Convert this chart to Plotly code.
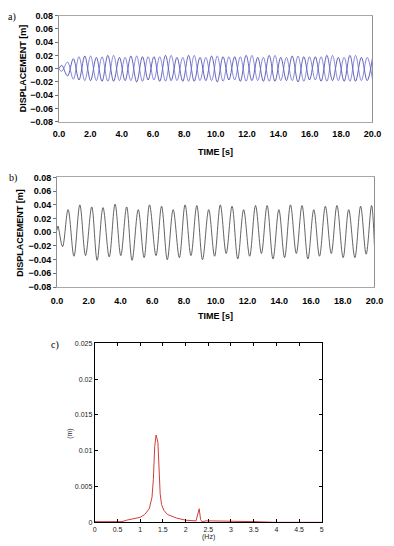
import plotly.graph_objects as go

W, H = 394, 546

# ---- panel a: two displacement records (extrema) ----
ta = [0.00, 0.18, 0.55, 0.92, 1.28, 1.65, 2.02, 2.39, 2.75, 3.12, 3.49, 3.86, 4.22, 4.59,
      4.96, 5.33, 5.69, 6.06, 6.43, 6.80, 7.16, 7.53, 7.90, 8.27, 8.63, 9.00, 9.37, 9.74,
      10.10, 10.47, 10.84, 11.21, 11.57, 11.94, 12.31, 12.68, 13.04, 13.41, 13.78, 14.15,
      14.51, 14.88, 15.25, 15.62, 15.98, 16.35, 16.72, 17.09, 17.45, 17.82, 18.19, 18.56,
      18.92, 19.29, 19.66, 20.00]
a1 = [0.000, 0.005, -0.011, 0.015, -0.017, 0.019, -0.018, 0.017, -0.019, 0.020, -0.019,
      0.017, -0.018, 0.019, -0.020, 0.018, -0.017, 0.018, -0.019, 0.020, -0.018, 0.017,
      -0.019, 0.020, -0.019, 0.017, -0.018, 0.019, -0.020, 0.018, -0.017, 0.018, -0.019,
      0.020, -0.018, 0.017, -0.019, 0.020, -0.019, 0.017, -0.018, 0.019, -0.020, 0.018,
      -0.017, 0.018, -0.019, 0.020, -0.018, 0.017, -0.019, 0.020, -0.019, 0.017, -0.018,
      0.016]
a2 = [0.000, -0.004, 0.010, -0.016, 0.018, -0.018, 0.019, -0.018, 0.018, -0.019, 0.020,
      -0.018, 0.017, -0.018, 0.019, -0.019, 0.018, -0.017, 0.018, -0.019, 0.020, -0.018,
      0.017, -0.019, 0.020, -0.018, 0.017, -0.018, 0.019, -0.019, 0.018, -0.017, 0.018,
      -0.019, 0.020, -0.018, 0.017, -0.019, 0.020, -0.018, 0.017, -0.018, 0.019, -0.019,
      0.018, -0.017, 0.018, -0.019, 0.020, -0.018, 0.017, -0.019, 0.020, -0.018, 0.017,
      -0.016]

# ---- panel b: displacement record (extrema) ----
tb = [0.00, 0.06, 0.35, 0.70, 1.07, 1.44, 1.80, 2.19, 2.53, 2.90, 3.29, 3.66, 4.02, 4.39,
      4.73, 5.12, 5.49, 5.83, 6.24, 6.59, 6.95, 7.32, 7.71, 8.07, 8.44, 8.81, 9.17, 9.56,
      9.93, 10.29, 10.66, 11.03, 11.39, 11.76, 12.14, 12.51, 12.88, 13.24, 13.61, 13.98,
      14.34, 14.71, 15.08, 15.44, 15.81, 16.18, 16.54, 16.91, 17.28, 17.64, 18.03, 18.38,
      18.77, 19.13, 19.48, 19.82, 20.00]
vb = [0.003, 0.009, -0.021, 0.033, -0.035, 0.040, -0.034, 0.037, -0.041, 0.036, -0.036,
      0.041, -0.034, 0.037, -0.041, 0.033, -0.037, 0.040, -0.034, 0.038, -0.040, 0.033,
      -0.037, 0.040, -0.034, 0.039, -0.040, 0.033, -0.035, 0.040, -0.031, 0.038, -0.039,
      0.033, -0.035, 0.039, -0.031, 0.039, -0.039, 0.033, -0.037, 0.040, -0.031, 0.039,
      -0.039, 0.033, -0.035, 0.038, -0.031, 0.039, -0.037, 0.033, -0.037, 0.038, -0.032,
      0.039, -0.020]

# ---- panel c: amplitude spectrum ----
fc = [0.0, 0.3, 0.6, 0.7, 0.87, 1.0, 1.1, 1.2, 1.26, 1.29, 1.32, 1.35, 1.39, 1.41, 1.44,
      1.47, 1.52, 1.6, 1.7, 1.8, 2.0, 2.15, 2.23, 2.30, 2.33, 2.36, 2.45, 2.6, 2.8, 2.9,
      3.2, 3.5, 4.0, 4.5, 5.0]
vc = [0.0001, 0.0001, 0.0001, 0.0003, 0.0005, 0.0007, 0.0011, 0.0019, 0.0035, 0.0060,
      0.0106, 0.0122, 0.0112, 0.0080, 0.0040, 0.0025, 0.0017, 0.0011, 0.0008, 0.0006,
      0.0003, 0.0002, 0.0002, 0.0019, 0.0004, 0.0001, 0.0002, 0.0002, 0.0002, 0.0001,
      0.0001, 0.0001, 0.0, 0.0, 0.0]

disp_ticks = [-0.08, -0.06, -0.04, -0.02, 0.0, 0.02, 0.04, 0.06, 0.08]
time_ticks = [0, 2, 4, 6, 8, 10, 12, 14, 16, 18, 20]
hz_ticks = [0, 0.5, 1, 1.5, 2, 2.5, 3, 3.5, 4, 4.5, 5]
m_ticks = [0, 0.005, 0.01, 0.015, 0.02, 0.025]


def px(x):
    return x / W


def py(y):
    return 1 - y / H


fig = go.Figure()
fig.add_trace(go.Scatter(x=ta, y=a1, mode="lines", line=dict(color="#3a3aa6", width=0.8, shape="spline"),
                         xaxis="x", yaxis="y"))
fig.add_trace(go.Scatter(x=ta, y=a2, mode="lines", line=dict(color="#6a6ad2", width=0.8, shape="spline"),
                         xaxis="x", yaxis="y"))
fig.add_trace(go.Scatter(x=tb, y=vb, mode="lines", line=dict(color="#3c3c3c", width=0.8, shape="spline"),
                         xaxis="x2", yaxis="y2"))
fig.add_trace(go.Scatter(x=fc, y=vc, mode="lines", line=dict(color="#d43c3c", width=1),
                         xaxis="x3", yaxis="y3"))

bold = dict(family="Liberation Sans", size=9, color="#000000", weight="bold")
small = dict(family="Liberation Sans", size=7, color="#222222")

def time_axis(domain, anchor, standoff):
    return dict(domain=domain, anchor=anchor, range=[0, 20], tickvals=time_ticks,
                tickformat=".1f", tickfont=bold, showgrid=False, zeroline=False,
                showline=True, mirror=True, linecolor="#a8a8a8", linewidth=1,
                ticks="", ticklabelstandoff=standoff)

def disp_axis(domain, anchor):
    return dict(domain=domain, anchor=anchor, range=[-0.08, 0.08], tickvals=disp_ticks,
                tickformat=".2f", tickfont=bold, showgrid=False, zeroline=False,
                showline=True, mirror=True, linecolor="#909090", linewidth=1,
                ticks="outside", ticklen=3, tickcolor="#707070")

fig.update_layout(
    width=W, height=H, margin=dict(l=0, r=0, t=0, b=0),
    paper_bgcolor="white", plot_bgcolor="white", showlegend=False,
    xaxis=time_axis([px(55), px(381)], "y", 3),
    yaxis=disp_axis([py(119), py(10.7)], "x"),
    xaxis2=time_axis([px(53), px(383)], "y2", 5),
    yaxis2=disp_axis([py(287.3), py(175.7)], "x2"),
    xaxis3=dict(domain=[px(92.3), px(328.3)], anchor="y3", range=[0, 5], tickvals=hz_ticks,
                tickfont=small, showgrid=False, zeroline=False, showline=True, mirror="ticks",
                linecolor="#000000", linewidth=1, ticks="inside", ticklen=3, tickcolor="#000000"),
    yaxis3=dict(domain=[py(527), py(344.7)], anchor="x3", range=[0, 0.025], tickvals=m_ticks,
                tickfont=small, showgrid=False, zeroline=False, showline=True, mirror="ticks",
                linecolor="#000000", linewidth=1, ticks="inside", ticklen=3, tickcolor="#000000"),
)

serif = dict(family="Liberation Serif", size=10, color="#000000")
ann = [
    dict(text="a)", x=px(0), y=py(12), xanchor="left", yanchor="middle", font=serif),
    dict(text="b)", x=px(1), y=py(176), xanchor="left", yanchor="middle", font=serif),
    dict(text="c)", x=px(45), y=py(346), xanchor="left", yanchor="middle", font=serif),
    dict(text="<b>DISPLACEMENT [m]</b>", x=px(17), y=py(64), textangle=-90,
         xanchor="center", yanchor="middle", font=bold),
    dict(text="<b>DISPLACEMENT [m]</b>", x=px(15), y=py(231.5), textangle=-90,
         xanchor="center", yanchor="middle", font=bold),
    dict(text="<b>TIME [s]</b>", x=px(218), y=py(150), xanchor="center", yanchor="middle", font=bold),
    dict(text="<b>TIME [s]</b>", x=px(218), y=py(316.5), xanchor="center", yanchor="middle", font=bold),
    dict(text="(m)", x=px(66.7), y=py(436.7), textangle=-90, xanchor="center", yanchor="middle", font=small),
    dict(text="(Hz)", x=px(210), y=py(542), xanchor="center", yanchor="middle", font=small),
]
for a in ann:
    a.update(xref="paper", yref="paper", showarrow=False)
fig.update_layout(annotations=ann)

fig.write_html("out.html")
